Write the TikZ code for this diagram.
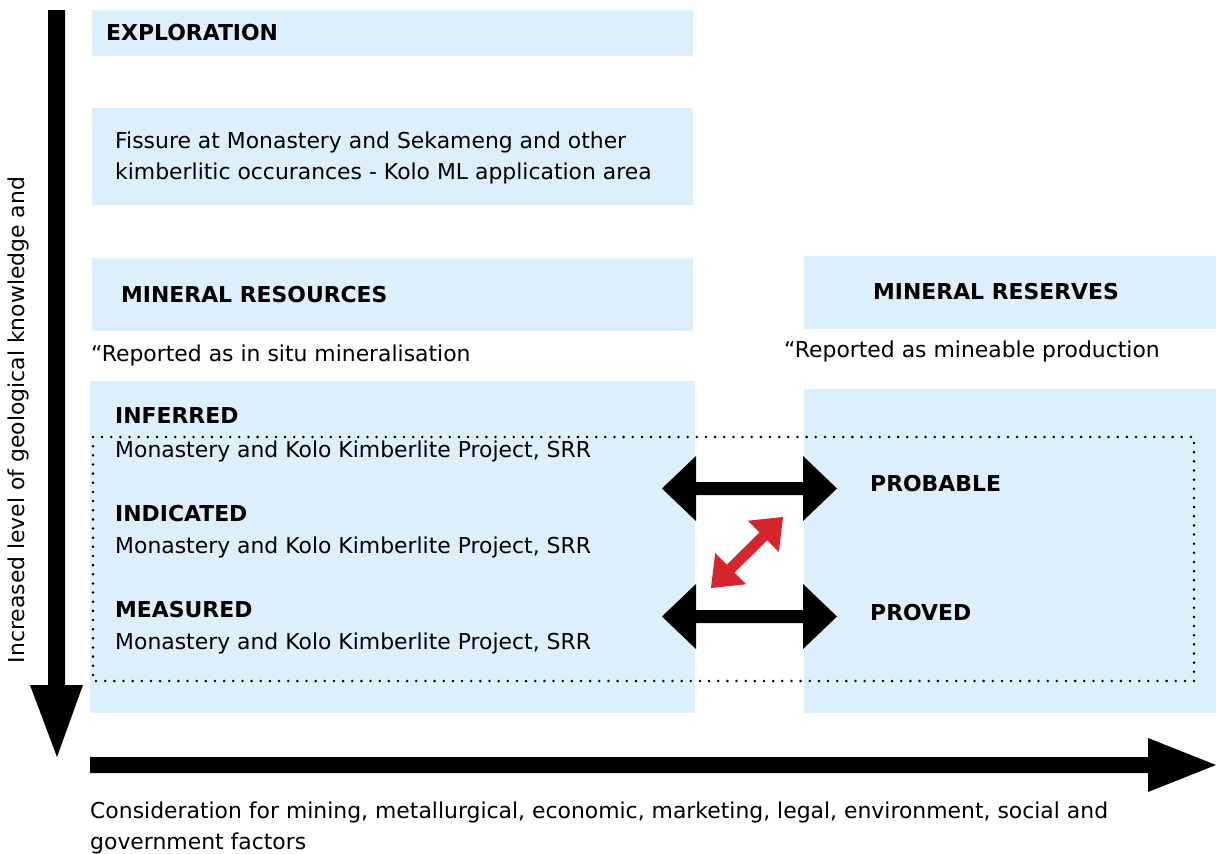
\documentclass[tikz,border=0pt]{standalone}
\usepackage{fontspec}
\setmainfont{DejaVu Sans}
\definecolor{lblue}{HTML}{DDEFFA}
\definecolor{rred}{HTML}{D7262B}
\tikzset{
  panel/.style={fill=lblue, draw=none},
  txt/.style={anchor=west, inner sep=0pt, font=\fontsize{21.9}{31}\selectfont},
  head/.style={anchor=west, inner sep=0pt, font=\fontsize{21.9}{31}\selectfont\bfseries},
  blackarrow/.style={fill=black, draw=none},
  redarrow/.style={fill=rred, draw=none},
  dotbox/.style={draw=black, line width=2.8pt, dash pattern=on 0pt off 9.15pt, line cap=round}
}
\begin{document}
\begin{tikzpicture}[x=1pt,y=-1pt]
\useasboundingbox (0,0) rectangle (1216,854);
% panels
\fill[panel] (92,10) rectangle (693,56);
\fill[panel] (92,108) rectangle (693,205);
\fill[panel] (92,258) rectangle (693,331);
\fill[panel] (804,256) rectangle (1216,329);
\fill[panel] (90,381) rectangle (695,713);
\fill[panel] (804,389) rectangle (1216,713);
% dotted frame
\draw[dotbox] (93,437) rectangle (1194,681);
% texts
\node[head] (expl) at (106,33) {EXPLORATION};
\node[txt, align=left] (fis) at (115,157.5) {Fissure at Monastery and Sekameng and other\\kimberlitic occurances - Kolo ML application area};
\node[head] (mres) at (121,295) {MINERAL RESOURCES};
\node[head] (mrsv) at (873,292) {MINERAL RESERVES};
\node[txt] (rep1) at (91,355) {``Reported as in situ mineralisation};
\node[txt] (rep2) at (784,351) {``Reported as mineable production};
\node[head] (inf) at (115,416) {INFERRED};
\node[txt] (inft) at (115,451) {Monastery and Kolo Kimberlite Project, SRR};
\node[head] (ind) at (115,514) {INDICATED};
\node[txt] (indt) at (115,547) {Monastery and Kolo Kimberlite Project, SRR};
\node[head] (mea) at (115,610) {MEASURED};
\node[txt] (meat) at (115,643) {Monastery and Kolo Kimberlite Project, SRR};
\node[head] (prob) at (870,484) {PROBABLE};
\node[head] (prov) at (870,613) {PROVED};
\node[txt, rotate=90, anchor=center] (yl) at (18,420) {Increased level of geological knowledge and};
\node[txt, align=left] (xl) at (90,827.5) {Consideration for mining, metallurgical, economic, marketing, legal, environment, social and\\government factors};
% vertical arrow
\fill[blackarrow] (48,10) -- (65,10) -- (65,685) -- (83,685) -- (57,757) -- (30,685) -- (48,685) -- cycle;
% horizontal arrow
\fill[blackarrow] (90,757) -- (1148,757) -- (1148,738) -- (1216,765) -- (1148,792) -- (1148,773) -- (90,773) -- cycle;
% double arrows
\fill[blackarrow] (662,488.5) -- (696,456) -- (696,482) -- (803,482) -- (803,456) -- (837,488.5) -- (803,521) -- (803,495) -- (696,495) -- (696,521) -- cycle;
\fill[blackarrow] (662,616.5) -- (696,584) -- (696,610) -- (803,610) -- (803,584) -- (837,616.5) -- (803,649) -- (803,623) -- (696,623) -- (696,649) -- cycle;
% red diagonal arrow
\begin{scope}[shift={(747,552.5)}, rotate=44.6]
\fill[redarrow] (-50.6,0) -- (-23,-22) -- (-23,-5.5) -- (23,-5.5) -- (23,-22) -- (50.6,0) -- (23,22) -- (23,5.5) -- (-23,5.5) -- (-23,22) -- cycle;
\end{scope}
\end{tikzpicture}
\end{document}
